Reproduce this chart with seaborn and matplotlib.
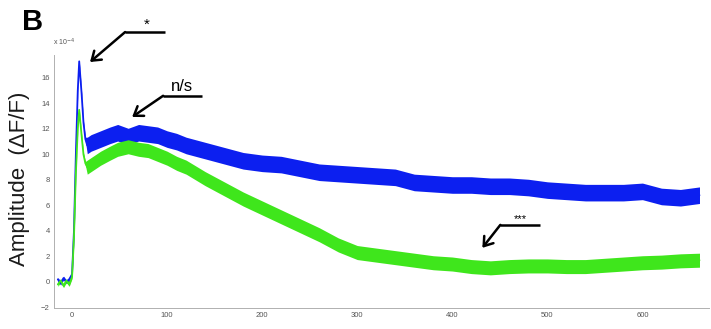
import numpy as np
import pandas as pd
import matplotlib
matplotlib.use("Agg")
import matplotlib.pyplot as plt
import seaborn as sns

# time axis (frames) and traces in units of 1e-4 dF/F
time = [-15, -12, -9, -6, -3, 0, 2, 4, 6, 7.5, 10, 12, 14, 16, 20, 30, 40, 48, 59, 70,
        80, 90, 100, 110, 120, 140, 160, 180, 200, 220, 240, 260, 280, 300, 320,
        340, 360, 380, 400, 420, 440, 460, 480, 500, 520, 540, 560, 580, 600, 620,
        640, 660]
blue_trace = [0.2, -0.1, 0.3, 0.0, 0.2, 0.6, 4.0, 10.0, 15.0, 17.3, 14.8, 12.5, 11.2, 10.7,
              10.9, 11.2, 11.5, 11.7, 11.4, 11.7, 11.6, 11.5, 11.2, 11.0, 10.7, 10.3, 9.9,
              9.5, 9.3, 9.2, 8.9, 8.6, 8.5, 8.4, 8.3, 8.2, 7.8, 7.7, 7.6, 7.6, 7.5, 7.5,
              7.4, 7.2, 7.1, 7.0, 7.0, 7.0, 7.1, 6.7, 6.6, 6.8]
green_trace = [-0.2, 0.1, -0.3, 0.1, -0.2, 0.4, 3.5, 8.5, 12.0, 13.5, 11.5, 10.0, 9.3, 9.0,
               9.2, 9.7, 10.1, 10.4, 10.6, 10.4, 10.3, 10.0, 9.7, 9.3, 9.0, 8.1, 7.3, 6.5,
               5.8, 5.1, 4.4, 3.7, 2.9, 2.3, 2.1, 1.9, 1.7, 1.5, 1.4, 1.2, 1.1, 1.2, 1.25,
               1.25, 1.2, 1.2, 1.3, 1.4, 1.5, 1.55, 1.65, 1.7]
# half thickness of the noisy band
blue_spread = [0.15] * 13 + [0.65] * 39
green_spread = [0.15] * 13 + [0.55] * 39

BLUE = "#0c1ff0"
GREEN = "#3fe61c"

rows = []
for name, tr, sp in [("blue", blue_trace, blue_spread), ("green", green_trace, green_spread)]:
    for t, v, s in zip(time, tr, sp):
        rows.append({"t": t, "amp": v - s, "trace": name})
        rows.append({"t": t, "amp": v + s, "trace": name})
df = pd.DataFrame(rows)

sns.set_style("white")
plt.rcParams["font.family"] = ["Liberation Sans", "DejaVu Sans"]

fig = plt.figure(figsize=(7.11, 3.29), dpi=100)
ax = fig.add_axes([54 / 711, 21 / 329, 655 / 711, 253 / 329])

sns.lineplot(data=df, x="t", y="amp", hue="trace", palette={"blue": BLUE, "green": GREEN},
             estimator="mean", errorbar=("pi", 100), err_kws={"alpha": 1, "linewidth": 0},
             linewidth=1.3, legend=False, ax=ax)

ax.set_xlim(-19, 670)
ax.set_ylim(-2.05, 17.8)
ax.set_xticks(range(0, 700, 100))
ax.set_yticks(range(-2, 18, 2))
ax.set_xlabel("")
ax.set_ylabel("")
ax.tick_params(axis="both", direction="in", length=3, width=0.6, colors="#9a9a9a",
               labelsize=5.5, labelcolor="#555555", pad=3)
for side in ["top", "right"]:
    ax.spines[side].set_visible(False)
for side in ["left", "bottom"]:
    ax.spines[side].set_color("#b0b0b0")
    ax.spines[side].set_linewidth(0.7)

# labels outside the axes
fig.text(22 / 711, 1 - 30 / 329, "B", fontsize=21, fontweight="bold", va="baseline",
         color="black")
fig.text(53 / 711, 1 - 45 / 329, r"x 10$^{-4}$", fontsize=5, color="#555555", va="baseline")
fig.text(20 / 711, 0.455, "Amplitude  (\u0394F/F)", rotation=90, fontsize=16,
         ha="center", va="center", color="#1a1a1a")

# significance arrows
def mark(label, tip, elbow, end, text_xy, size):
    ax.plot([elbow[0], end[0]], [elbow[1], end[1]], color="black", lw=1.8,
            solid_capstyle="butt", clip_on=False)
    ax.annotate("", xy=tip, xytext=elbow, annotation_clip=False,
                arrowprops=dict(arrowstyle="->,head_length=0.5,head_width=0.35",
                                color="black", lw=1.8, shrinkA=0, shrinkB=0,
                                mutation_scale=12))
    ax.text(text_xy[0], text_xy[1], label, fontsize=size, ha="center", va="bottom",
            color="black")

mark("*", (18.9, 17.25), (55.8, 19.6), (97.9, 19.6), (79, 19.65), 11)
mark("n/s", (63.2, 12.94), (95.8, 14.6), (136.8, 14.6), (116, 14.75), 12)
mark("***", (431.6, 2.67), (450.5, 4.47), (492.6, 4.47), (471.6, 4.55), 8)

fig.savefig("out.png", dpi=100)
